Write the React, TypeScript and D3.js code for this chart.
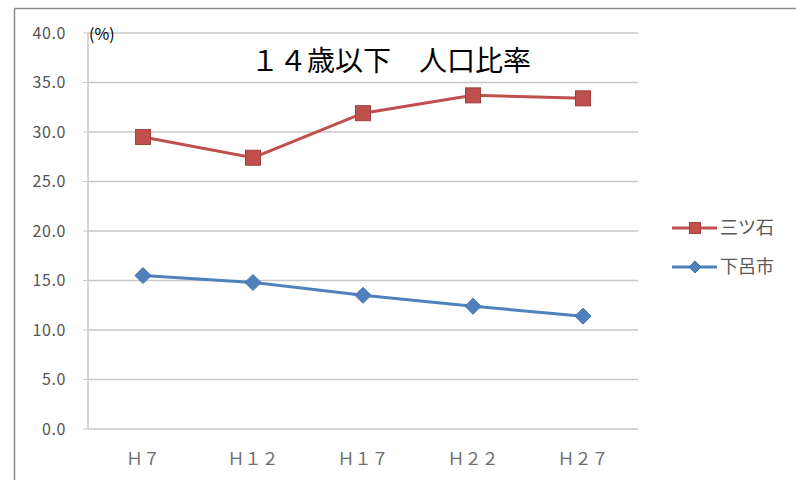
import React from "react";
import * as d3 from "d3";

const categories = ["Ｈ７", "Ｈ１２", "Ｈ１７", "Ｈ２２", "Ｈ２７"];
const mitsuishi = [29.5, 27.4, 31.9, 33.7, 33.4];
const gero = [15.5, 14.8, 13.5, 12.4, 11.4];
const yTicks = [0, 5, 10, 15, 20, 25, 30, 35, 40];
const seriesNames = ["三ツ石", "下呂市"];

const W = 796;
const H = 480;
const plot = { left: 88, right: 638, top: 33, bottom: 429 };

export default function App() {
  const x = d3
    .scaleBand<string>()
    .domain(categories)
    .range([plot.left, plot.right]);
  const y = d3.scaleLinear().domain([0, 40]).range([plot.bottom, plot.top]);
  const cx = (c: string) => (x(c) ?? 0) + x.bandwidth() / 2;

  const line = d3
    .line<number>()
    .x((_, i) => cx(categories[i]))
    .y((d) => y(d));

  const red = "#C0504D";
  const redDark = "#A33F3C";
  const blue = "#4F81BD";
  const blueDark = "#3F6EA6";
  const font = "'Noto Sans CJK JP', 'Noto Sans', sans-serif";

  const square = (px: number, py: number, s: number, key: any) => (
    <rect
      key={key}
      x={px - s / 2}
      y={py - s / 2}
      width={s}
      height={s}
      fill={red}
      stroke={redDark}
      strokeWidth={1}
    />
  );
  const diamond = (px: number, py: number, r: number, key: any) => (
    <path
      key={key}
      d={`M${px},${py - r}L${px + r},${py}L${px},${py + r}L${px - r},${py}Z`}
      fill={blue}
      stroke={blueDark}
      strokeWidth={1}
    />
  );

  return (
    <svg
      width={W}
      height={H}
      style={{ position: "absolute", left: 0, top: 0, background: "#fff" }}
    >
      <rect x={0} y={0} width={W} height={H} fill="#fff" />
      {/* outer frame */}
      <line x1={14.5} y1={8.5} x2={W} y2={8.5} stroke="#8c8c8c" strokeWidth={1.5} />
      <line x1={14.5} y1={8.5} x2={14.5} y2={H} stroke="#8c8c8c" strokeWidth={1.5} />

      {/* gridlines */}
      {yTicks.map((t) => (
        <line
          key={t}
          x1={plot.left}
          x2={plot.right}
          y1={y(t)}
          y2={y(t)}
          stroke="#c8c8c8"
          strokeWidth={1.5}
        />
      ))}
      {/* axis */}
      <line
        x1={plot.left}
        x2={plot.left}
        y1={plot.top}
        y2={plot.bottom}
        stroke="#c8c8c8"
        strokeWidth={1.5}
      />
      {yTicks.map((t) => (
        <line
          key={"tk" + t}
          x1={plot.left - 5}
          x2={plot.left}
          y1={y(t)}
          y2={y(t)}
          stroke="#c8c8c8"
          strokeWidth={1}
        />
      ))}

      {/* y labels */}
      {yTicks.map((t) => (
        <text
          key={"yl" + t}
          x={66}
          y={y(t)}
          dy="0.35em"
          textAnchor="end"
          fontFamily={font}
          fontSize={16}
          letterSpacing={0.6}
          fill="#555"
        >
          {t.toFixed(1)}
        </text>
      ))}
      <text x={89} y={40} fontFamily={font} fontSize={16} fill="#000">
        (%)
      </text>

      {/* x labels */}
      {categories.map((c) => (
        <text
          key={c}
          x={cx(c)}
          y={465}
          textAnchor="middle"
          fontFamily={font}
          fontSize={17}
          fill="#6e6e6e"
        >
          {c}
        </text>
      ))}

      {/* title */}
      <text
        x={391}
        y={71}
        textAnchor="middle"
        fontFamily={font}
        fontSize={28}
        fill="#000"
      >
        １４歳以下　人口比率
      </text>

      {/* series */}
      <path d={line(mitsuishi) ?? ""} fill="none" stroke={red} strokeWidth={3} />
      {mitsuishi.map((v, i) => square(cx(categories[i]), y(v), 15, "m" + i))}
      <path d={line(gero) ?? ""} fill="none" stroke={blue} strokeWidth={3} />
      {gero.map((v, i) => diamond(cx(categories[i]), y(v), 8, "g" + i))}

      {/* legend */}
      <line x1={672} x2={717} y1={228} y2={228} stroke={red} strokeWidth={3} />
      {square(695, 228, 11, "lm")}
      <text x={720} y={228} dy="0.35em" fontFamily={font} fontSize={18} fill="#595959">
        {seriesNames[0]}
      </text>
      <line x1={672} x2={717} y1={267} y2={267} stroke={blue} strokeWidth={3} />
      {diamond(695, 267, 6, "lg")}
      <text x={720} y={267} dy="0.35em" fontFamily={font} fontSize={18} fill="#595959">
        {seriesNames[1]}
      </text>
    </svg>
  );
}
